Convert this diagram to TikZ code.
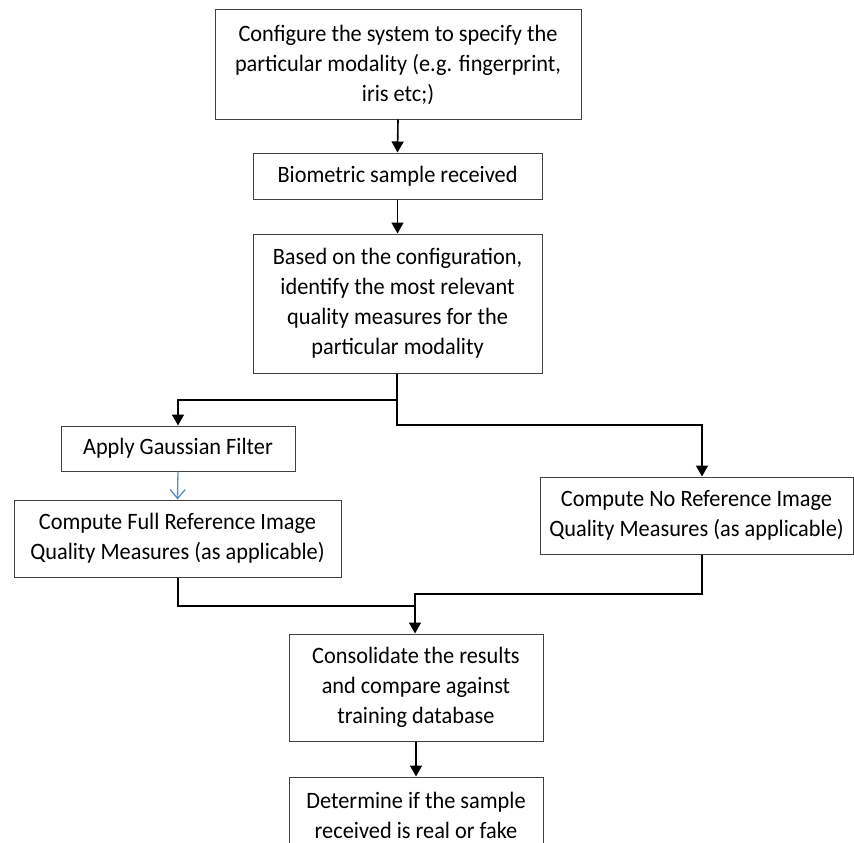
\documentclass[tikz,border=0pt]{standalone}
\usepackage{fontspec}
\setmainfont[FakeStretch=0.95]{Carlito}
\usetikzlibrary{arrows.meta}
\definecolor{boxline}{HTML}{404040}
\definecolor{bluearrow}{HTML}{5B8CC8}
\begin{document}
\begin{tikzpicture}[x=1pt,y=-1pt,
  box/.style={draw=boxline, line width=1pt, align=center, inner sep=0pt,
    font=\fontsize{23.5}{30}\selectfont},
  conn/.style={draw=black, line width=1.6pt},
  arr/.style={conn, -{Triangle[length=11pt,width=12pt]}},
  bluearr/.style={draw=bluearrow, line width=1.3pt, -{Straight Barb[length=9pt,width=15pt,line width=1.3pt]}}]
\useasboundingbox (0,0) rectangle (854,843);
\clip (0,0) rectangle (854,843);
\node[box, minimum width=366pt, minimum height=109pt] (b1) at (398,64.5)
  {Configure the system to specify the\\particular modality (e.g. fingerprint,\\iris etc;)};
\node[box, minimum width=289pt, minimum height=46pt] (b2) at (397.5,176)
  {Biometric sample received};
\node[box, minimum width=289pt, minimum height=139pt] (b3) at (397.5,303.5)
  {Based on the configuration,\\identify the most relevant\\quality measures for the\\particular modality};
\node[box, minimum width=234pt, minimum height=45pt] (b4) at (178,448.5)
  {Apply Gaussian Filter};
\node[box, minimum width=327pt, minimum height=77pt] (b5) at (177.5,538.5)
  {Compute Full Reference Image\\Quality Measures (as applicable)};
\node[box, minimum width=313pt, minimum height=77pt] (b6) at (696.5,515.5)
  {Compute No Reference Image\\Quality Measures (as applicable)};
\node[box, minimum width=254pt, minimum height=107pt] (b7) at (416,687.5)
  {Consolidate the results\\and compare against\\training database};
\node[box, minimum width=254pt, minimum height=77pt] (b8) at (416,815.5)
  {Determine if the sample\\received is real or fake};
% junction coordinates
\coordinate (s3a) at (397,400);
\coordinate (s3b) at (397,425);
\coordinate (m5) at (178,606);
\coordinate (m6) at (702,594);
\coordinate (j) at (415,606);
% connectors
\draw[arr] (b1.south) -- (b2.north);
\draw[arr] (b2.south) -- (b3.north);
\draw[arr] (b3.south -| s3a) -- (s3a) -- (s3a -| b4.north) -- (b4.north);
\draw[arr] (s3a) -- (s3b) -- (s3b -| m6) -- (b6.north -| m6);
\draw[bluearr] (b4.south) -- (b5.north);
\draw[conn] (b5.south -| m5) -- (m5) -- (j);
\draw[arr] (b6.south -| m6) -- (m6) -- (m6 -| j) -- (b7.north -| j);
\draw[arr] (b7.south) -- (b8.north);
\end{tikzpicture}
\end{document}
